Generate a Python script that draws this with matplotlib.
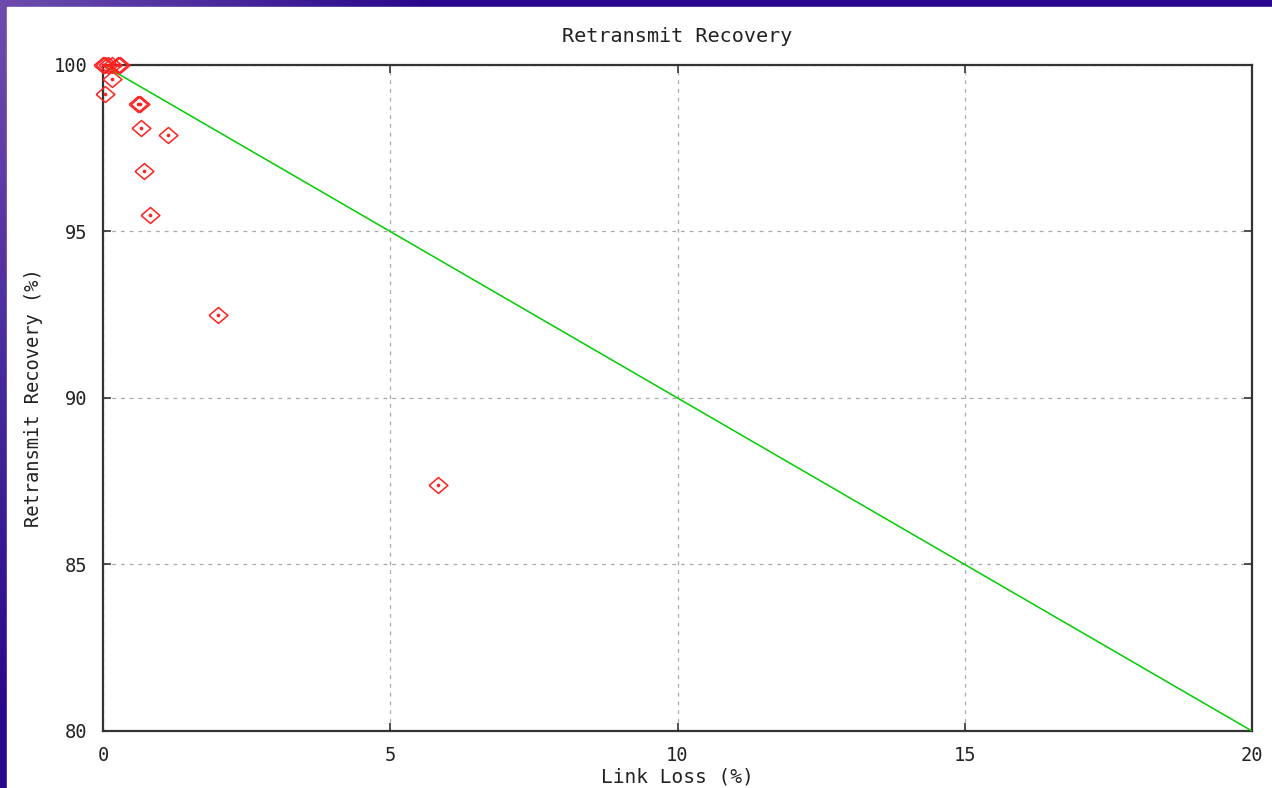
import numpy as np
import matplotlib
matplotlib.use("Agg")
import matplotlib.pyplot as plt
from matplotlib.patches import Rectangle

# measured points (link loss %, recovery %)
loss = [0.0, 0.04, 0.09, 0.15, 0.26, 0.30, 0.15, 0.035, 0.61, 0.64, 0.67, 1.13, 0.71, 0.81, 2.0, 5.83]
recovery = [100, 100, 100, 100, 100, 100, 99.57, 99.13, 98.82, 98.82, 98.10, 97.90, 96.83, 95.50, 92.49, 87.39]

# reference line
line_x = [0, 20]
line_y = [100, 80]

x_ticks = [0, 5, 10, 15, 20]
y_ticks = [80, 85, 90, 95, 100]

W, H = 1272, 788
fig = plt.figure(figsize=(W / 100, H / 100), dpi=100)

# slide background: purple gradient with white plot area
bg = fig.add_axes([0, 0, 1, 1], zorder=-10)
yy, xx = np.mgrid[0:1:200j, 0:1:200j]
f = np.clip(1 - np.sqrt((xx * 3) ** 2 + (yy * 1.1) ** 2), 0, 1)
light = np.array([0.43, 0.30, 0.68])
dark = np.array([0.16, 0.03, 0.55])
img = dark + (light - dark) * f[..., None]
bg.imshow(img, extent=[0, 1, 0, 1], aspect="auto", origin="upper")
bg.add_patch(Rectangle((7 / W, 0), 1, 1 - 7 / H, color="white", zorder=5))
bg.set_xlim(0, 1)
bg.set_ylim(0, 1)
bg.axis("off")

font = "DejaVu Sans Mono"
ax = fig.add_axes([103 / W, 1 - 731 / H, (1252 - 103) / W, (731 - 65) / H])
ax.set_facecolor("none")

diamond = [(-1, 0), (0, 0.85), (1, 0), (0, -0.85), (-1, 0)]
ax.plot(line_x, line_y, color="#00cc00", lw=1.1, zorder=3)
ax.plot(loss, recovery, linestyle="none", marker=diamond, markersize=13.5,
        markerfacecolor="none", markeredgecolor="#ff2020", markeredgewidth=1.1,
        zorder=4, clip_on=False)
ax.plot(loss, recovery, linestyle="none", marker="o", markersize=1.6,
        color="#ff2020", zorder=4, clip_on=False)

ax.set_xlim(0, 20)
ax.set_ylim(80, 100)
ax.set_xticks(x_ticks)
ax.set_yticks(y_ticks)
ax.tick_params(direction="in", length=6, width=1.2, color="#333333",
               top=True, right=True, labelsize=13.5, pad=11)
for lab in ax.get_xticklabels() + ax.get_yticklabels():
    lab.set_family(font)
    lab.set_color("#222222")
ax.grid(True, color="#a8a8a8", linestyle=(0, (3, 4)), lw=0.9)
for s in ax.spines.values():
    s.set_color("#333333")
    s.set_linewidth(1.6)

fig.text(677 / W, 1 - 37 / H, "Retransmit Recovery", ha="center", va="center",
         family=font, fontsize=14.5, color="#222222")
fig.text(677 / W, 1 - 777 / H, "Link Loss (%)", ha="center", va="center",
         family=font, fontsize=14, color="#222222")
fig.text(34 / W, 1 - 398 / H, "Retransmit Recovery (%)", ha="center", va="center",
         rotation=90, family=font, fontsize=13.5, color="#222222")

fig.savefig("out.png", dpi=100)
